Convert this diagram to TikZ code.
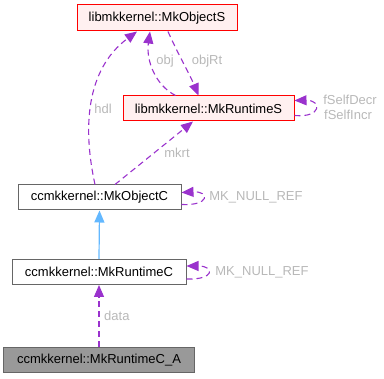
\documentclass[tikz,border=0pt]{standalone}
\usepackage{fontspec}
\setmainfont{Liberation Sans}
\usetikzlibrary{arrows.meta}
\definecolor{edgep}{HTML}{9A32CD}
\definecolor{edgeb}{HTML}{63B8FF}
\definecolor{lblc}{HTML}{B8B8B8}
\definecolor{redfill}{HTML}{FFF0F0}
\begin{document}
\begin{tikzpicture}[x=1pt,y=-1pt,
  every node/.style={font=\fontsize{13}{15}\selectfont},
  box/.style={draw=black!60, fill=white, line width=1pt, inner sep=0pt, anchor=center},
  redbox/.style={draw=red, fill=redfill, line width=1pt, inner sep=0pt, anchor=center},
  graybox/.style={draw=black!60, fill=black!40, line width=1pt, inner sep=0pt, anchor=center},
  rel/.style={draw=edgep, line width=1.1pt, dash pattern=on 6pt off 4pt, -{Triangle[length=12pt,width=10pt]}},
  inh/.style={draw=edgeb, line width=1.2pt, -{Triangle[length=12pt,width=10pt]}},
  lbl/.style={text=lblc, inner sep=0pt}]
\useasboundingbox (0,0) rectangle (384,379);
\node[redbox, minimum width=160pt, minimum height=26pt] (oS) at (157,18) {libmkkernel::MkObjectS};
\node[redbox, minimum width=171pt, minimum height=25pt] (rS) at (208.5,108.5) {libmkkernel::MkRuntimeS};
\node[box, minimum width=163pt, minimum height=25pt] (oC) at (99.5,197.5) {ccmkkernel::MkObjectC};
\node[box, minimum width=174pt, minimum height=25pt] (rC) at (99,272) {ccmkkernel::MkRuntimeC};
\node[graybox, minimum width=190pt, minimum height=25pt] (rCA) at (99,360) {ccmkkernel::MkRuntimeC\_A};

% hdl
\draw[rel] ([xshift=-4.5pt]oC.north) .. controls (83,130) and (85,70) .. ([xshift=-20pt]oS.south);
\node[lbl] (lhdl) at (103,109) {hdl};
% mkrt
\draw[rel] ([xshift=15.5pt]oC.north) -- ([xshift=-15.5pt]rS.south);
\node[lbl] (lmkrt) at (177,153) {mkrt};
% obj
\draw[rel] ([xshift=-33pt]rS.north) .. controls (155,85) and (146,60) .. ([xshift=-7pt]oS.south);
\node[lbl] (lobj) at (165,61) {obj};
% objRt
\draw[rel] ([xshift=11pt]oS.south) .. controls (176,50) and (190,75) .. ([xshift=-10pt]rS.north);
\node[lbl] (lobjrt) at (207,61) {objRt};
% self loops rS
\draw[rel] ([yshift=-7pt]rS.east) .. controls (322,118) and (322,100) .. ([yshift=8pt]rS.east);
\node[lbl] (lsd) at (350,100) {fSelfDecr};
\node[lbl] (lsi) at (348,115) {fSelfIncr};
% self loop oC
\draw[rel] ([yshift=-7pt]oC.east) .. controls (210,206) and (210,191) .. ([yshift=5pt]oC.east);
\node[lbl] (lnr1) at (256,197) {MK\_NULL\_REF};
% self loop rC
\draw[rel] ([yshift=-7pt]rC.east) .. controls (215,280) and (215,266) .. ([yshift=6pt]rC.east);
\node[lbl] (lnr2) at (262,272) {MK\_NULL\_REF};
% inheritance
\draw[inh] (rC.north) -- (oC.south);
% data
\draw[rel] (rCA.north) -- (rC.south);
\node[lbl, anchor=west] (ldata) at (104,316) {data};
\end{tikzpicture}
\end{document}
